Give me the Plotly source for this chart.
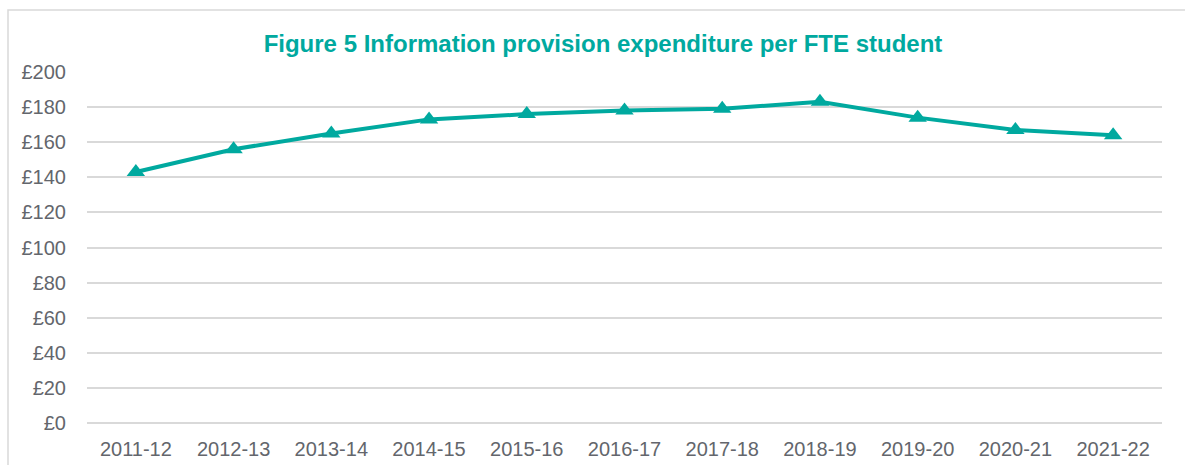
import plotly.graph_objects as go

years = ["2011-12", "2012-13", "2013-14", "2014-15", "2015-16", "2016-17",
         "2017-18", "2018-19", "2019-20", "2020-21", "2021-22"]
spend = [143, 156, 165, 173, 176, 178, 179, 183, 174, 167, 164]
y_ticks = [0, 20, 40, 60, 80, 100, 120, 140, 160, 180, 200]
y_labels = ["£" + str(v) for v in y_ticks]

teal = "#00A99F"
label_grey = "#63666C"
fig = go.Figure()
fig.add_trace(go.Scatter(
    x=years, y=spend, mode="lines+markers",
    line=dict(color=teal, width=4),
    marker=dict(symbol="triangle-up", size=16, color=teal),
    showlegend=False, cliponaxis=False,
))

W, H = 1185, 465
L, R, T, B = 87, 23, 72, 42
pw = W - L - R
ph = H - T - B
FONT = "Liberation Sans, Arial, sans-serif"

fig.update_layout(
    width=W, height=H,
    margin=dict(l=L, r=R, t=T, b=B, autoexpand=False),
    paper_bgcolor="white", plot_bgcolor="white",
    font=dict(family=FONT, size=20, color=label_grey),
    title=dict(text="<b>Figure 5 Information provision expenditure per FTE student</b>",
               x=603 / W, xanchor="center", xref="container",
               y=1 - 44 / H, yanchor="middle", yref="container",
               font=dict(size=24, color=teal, family=FONT)),
    xaxis=dict(type="category", range=[-0.5, 10.5], showgrid=False, showline=False,
               ticks="", tickfont=dict(size=20, color=label_grey), ticklabelstandoff=12),
    yaxis=dict(range=[0, 200], tickvals=y_ticks, ticktext=y_labels,
               showgrid=True, gridcolor="#D9D9D9", gridwidth=1.5,
               zeroline=True, zerolinecolor="#D9D9D9", zerolinewidth=1.5,
               showline=False, ticks="", tickfont=dict(size=20, color=label_grey),
               ticklabelstandoff=20),
    shapes=[dict(type="rect", xref="paper", yref="paper",
                 x0=(8 - L) / pw, x1=(W + 20 - L) / pw,
                 y0=-(B + 20) / ph, y1=(H - B - 10) / ph,
                 line=dict(color="#D9D9D9", width=1.5), fillcolor="rgba(0,0,0,0)",
                 layer="below")],
)

fig.write_html("out.html", config={"displayModeBar": False},
               post_script="document.body.style.margin='0';document.body.style.overflow='hidden';")
